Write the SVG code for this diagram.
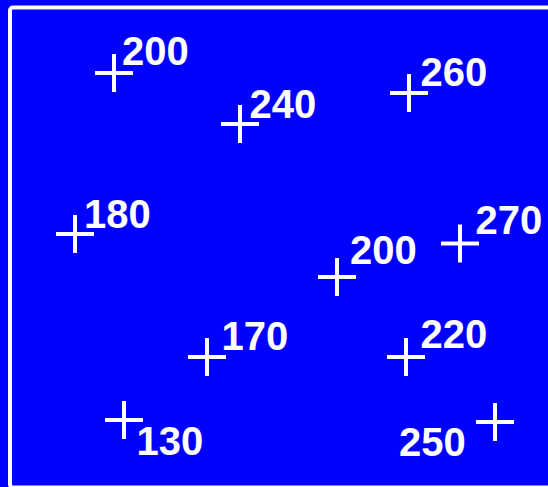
<svg xmlns="http://www.w3.org/2000/svg" width="548" height="487" viewBox="0 0 548 487">
<style>
.bg{fill:#0000ff}
.frame{fill:none;stroke:#ffffff;stroke-width:4}
.cross{stroke:#ffffff;stroke-width:4;fill:none}
.lbl{font-family:"Liberation Sans",Arial,sans-serif;font-weight:bold;font-size:40px;fill:#ffffff}
</style>
<defs>
<path id="plus" d="M-19,0H19M0,-19V19"/>
</defs>
<rect class="bg" x="0" y="0" width="548" height="487"/>
<rect class="frame" x="10" y="7.5" width="560" height="480" rx="3"/>
<g id="connectors"/>
<g id="p1"><use href="#plus" class="cross" x="114" y="73"/><text class="lbl" x="122" y="65">200</text></g>
<g id="p2"><use href="#plus" class="cross" x="240" y="124"/><text class="lbl" x="249.5" y="117.5">240</text></g>
<g id="p3"><use href="#plus" class="cross" x="409" y="93"/><text class="lbl" x="420.5" y="86">260</text></g>
<g id="p4"><use href="#plus" class="cross" x="75" y="234"/><text class="lbl" x="84" y="227.5">180</text></g>
<g id="p5"><use href="#plus" class="cross" x="460" y="243.5"/><text class="lbl" x="475.5" y="234">270</text></g>
<g id="p6"><use href="#plus" class="cross" x="337" y="277"/><text class="lbl" x="350" y="264">200</text></g>
<g id="p7"><use href="#plus" class="cross" x="207" y="357"/><text class="lbl" x="221.5" y="350">170</text></g>
<g id="p8"><use href="#plus" class="cross" x="406" y="357"/><text class="lbl" x="420.5" y="347.5">220</text></g>
<g id="p9"><use href="#plus" class="cross" x="124" y="420"/><text class="lbl" x="136.5" y="455">130</text></g>
<g id="p10"><use href="#plus" class="cross" x="495" y="422"/><text class="lbl" x="399" y="456">250</text></g>
</svg>
